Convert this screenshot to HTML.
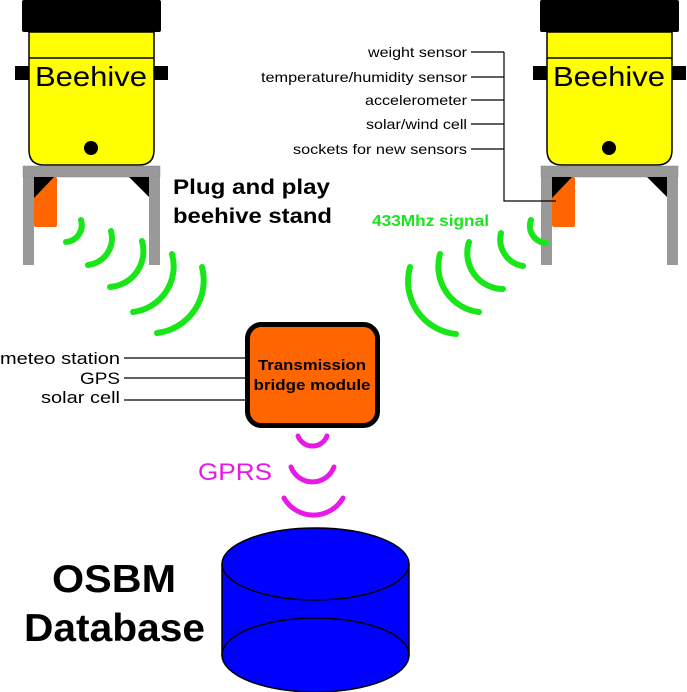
<!DOCTYPE html>
<html><head><meta charset="utf-8"><style>
html,body{margin:0;padding:0;background:#fff;}
svg{display:block;}
text{font-family:"Liberation Sans",Arial,sans-serif;}
</style></head><body>
<svg width="687" height="692" viewBox="0 0 687 692" xmlns="http://www.w3.org/2000/svg">
<g id="hive">
<rect x="15" y="66" width="153" height="14" fill="#000"/>
<path d="M29 32 H154 V150 Q154 165 139 165 H44 Q29 165 29 150 Z" fill="#ffff00" stroke="#000" stroke-width="1.5"/>
<line x1="29" y1="58" x2="154" y2="58" stroke="#000" stroke-width="1.5"/>
<rect x="22" y="0" width="139" height="32" rx="2" fill="#000"/>
<text x="35" y="86" font-size="28" textLength="112" lengthAdjust="spacingAndGlyphs" fill="#000">Beehive</text>
<circle cx="91" cy="148" r="7" fill="#000"/>
<rect x="23" y="166" width="137" height="11" fill="#999" stroke="#888" stroke-width="0.5"/>
<rect x="23" y="177" width="11" height="88" fill="#999"/>
<rect x="149" y="177" width="11" height="88" fill="#999"/>
<rect x="34" y="177" width="23" height="50" rx="2" fill="#ff6600"/>
<path d="M34 177 H54 L34 198 Z" fill="#000"/>
<path d="M129 177 H149 V197 Z" fill="#000"/>
</g>
<use href="#hive" transform="translate(518,0)"/>
<g fill="none" stroke="#19e619" stroke-width="6" stroke-linecap="round">
<path d="M81 220 A17 17 0 0 1 66 242"/>
<path d="M111 231 A27 27 0 0 1 88 265"/>
<path d="M142 241 A36 36 0 0 1 110 287"/>
<path d="M172 254 A46 46 0 0 1 133 312"/>
<path d="M202 267 A53 53 0 0 1 157 333"/>
<path d="M531 220 A17 17 0 0 0 546 243"/>
<path d="M501 233 A27 27 0 0 0 523 266"/>
<path d="M469 242 A36 36 0 0 0 503 289"/>
<path d="M440 254 A46 46 0 0 0 479 312"/>
<path d="M410 267 A53 53 0 0 0 456 334"/>
</g>
<g fill="none" stroke="#e619e6" stroke-width="5" stroke-linecap="round">
<path d="M298 436 A15.5 15.5 0 0 0 327 436"/>
<path d="M291 467 A23 23 0 0 0 334 467"/>
<path d="M284 498 A34 34 0 0 0 343 498"/>
</g>
<text x="173" y="194" font-size="21" font-weight="bold" textLength="157" lengthAdjust="spacingAndGlyphs">Plug and play</text>
<text x="173" y="223" font-size="21" font-weight="bold" textLength="159" lengthAdjust="spacingAndGlyphs">beehive stand</text>
<text x="372" y="226" font-size="16" font-weight="bold" fill="#19e619" textLength="117" lengthAdjust="spacingAndGlyphs">433Mhz signal</text>
<g font-size="14" text-anchor="end" fill="#000">
<text x="467" y="57" textLength="99" lengthAdjust="spacingAndGlyphs">weight sensor</text>
<text x="467" y="82" textLength="206" lengthAdjust="spacingAndGlyphs">temperature/humidity sensor</text>
<text x="467" y="105" textLength="102" lengthAdjust="spacingAndGlyphs">accelerometer</text>
<text x="467" y="129" textLength="101" lengthAdjust="spacingAndGlyphs">solar/wind cell</text>
<text x="467" y="154" textLength="174" lengthAdjust="spacingAndGlyphs">sockets for new sensors</text>
</g>
<g stroke="#000" stroke-width="1.2" fill="none">
<path d="M471 52 H504 M471 77 H504 M471 100 H504 M471 124 H504 M471 149 H504 M504 52 V201 H556"/>
<path d="M124 358 H245 M124 378 H245 M124 400 H245"/>
</g>
<g font-size="17" text-anchor="end" fill="#000">
<text x="120" y="364" textLength="120" lengthAdjust="spacingAndGlyphs">meteo station</text>
<text x="120" y="384" textLength="40" lengthAdjust="spacingAndGlyphs">GPS</text>
<text x="120" y="403" textLength="79" lengthAdjust="spacingAndGlyphs">solar cell</text>
</g>
<rect x="247.5" y="324.5" width="130" height="101" rx="14" fill="#ff6600" stroke="#000" stroke-width="5"/>
<text x="312" y="370" font-size="15" font-weight="bold" text-anchor="middle" textLength="108" lengthAdjust="spacingAndGlyphs">Transmission</text>
<text x="312" y="390" font-size="15" font-weight="bold" text-anchor="middle" textLength="117" lengthAdjust="spacingAndGlyphs">bridge module</text>
<text x="198" y="480" font-size="24" fill="#e619e6" textLength="74" lengthAdjust="spacingAndGlyphs">GPRS</text>
<text x="52" y="592" font-size="39" font-weight="bold" textLength="124" lengthAdjust="spacingAndGlyphs">OSBM</text>
<text x="24" y="641" font-size="39" font-weight="bold" textLength="181" lengthAdjust="spacingAndGlyphs">Database</text>
<path d="M222 564 V655 A93.5 37 0 0 0 409 655 V564" fill="#0000ff" stroke="#000" stroke-width="1.5"/>
<ellipse cx="315.5" cy="655" rx="93.5" ry="37" fill="#0000ff" stroke="#000" stroke-width="1.5"/>
<ellipse cx="315.5" cy="564" rx="93.5" ry="36" fill="#0000ff" stroke="#000" stroke-width="1.5"/>
</svg>
</body></html>
